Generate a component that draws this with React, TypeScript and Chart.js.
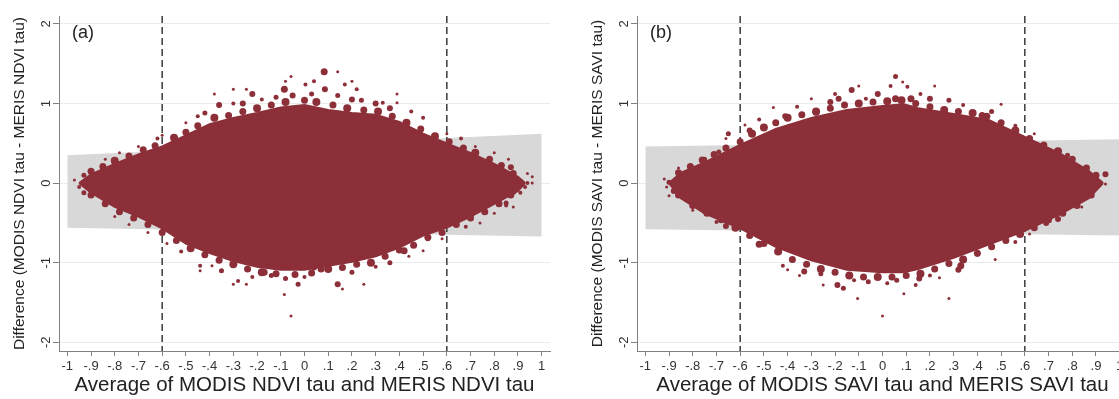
import React, { useEffect, useRef } from "react";
import { Chart, registerables } from "chart.js";

Chart.register(...registerables);

// ---------- axes ----------
const xTickValues = [-1, -0.9, -0.8, -0.7, -0.6, -0.5, -0.4, -0.3, -0.2, -0.1, 0, 0.1, 0.2, 0.3, 0.4, 0.5, 0.6, 0.7, 0.8, 0.9, 1];
const xTickLabels = ["-1", "-.9", "-.8", "-.7", "-.6", "-.5", "-.4", "-.3", "-.2", "-.1", "0", ".1", ".2", ".3", ".4", ".5", ".6", ".7", ".8", ".9", "1"];
const yTickValues = [-2, -1, 0, 1, 2];
const yTickLabels = ["-2", "-1", "0", "1", "2"];
const xMin = -1.035;
const xMax = 1.035;
const yMin = -2.11;
const yMax = 2.1;
const refLinesX = [-0.6, 0.6];
const bandX = [-1, 1];

// ---------- panel (a): NDVI ----------
const aBandUpper = [0.35, 0.62];
const aBandLower = [-0.56, -0.67];
const aCoreX = [-0.95, -0.9, -0.8, -0.7, -0.6, -0.5, -0.4, -0.3, -0.2, -0.1, 0, 0.1, 0.2, 0.3, 0.4, 0.5, 0.6, 0.7, 0.8, 0.9, 0.93];
const aCoreUpper = [0, 0.11, 0.24, 0.36, 0.46, 0.6, 0.74, 0.82, 0.88, 0.95, 0.98, 0.92, 0.88, 0.86, 0.77, 0.62, 0.5, 0.38, 0.24, 0.08, 0];
const aCoreLower = [0, -0.12, -0.3, -0.42, -0.57, -0.76, -0.88, -0.98, -1.05, -1.09, -1.09, -1.04, -0.99, -0.92, -0.81, -0.66, -0.56, -0.42, -0.26, -0.1, 0];
const aEdgeUpper: number[][] = [
  [-0.9, 0.15, 3.5], [-0.85, 0.21, 3.5], [-0.8, 0.28, 4], [-0.74, 0.34, 3.5], [-0.68, 0.42, 3.5], [-0.63, 0.47, 3.5],
  [-0.55, 0.57, 4], [-0.5, 0.64, 3.5], [-0.45, 0.72, 3.5], [-0.38, 0.82, 4], [-0.32, 0.85, 3.5], [-0.26, 0.9, 3.5],
  [-0.2, 0.94, 4], [-0.14, 0.98, 3.5], [-0.08, 1.02, 4], [0.0, 1.04, 3.5], [0.05, 1.02, 4], [0.12, 0.98, 3.5],
  [0.18, 0.94, 4], [0.25, 0.92, 3.5], [0.31, 0.9, 4], [0.37, 0.84, 3.5], [0.43, 0.76, 4], [0.49, 0.68, 3.5],
  [0.55, 0.59, 4], [0.61, 0.52, 3.5], [0.67, 0.44, 3.5], [0.72, 0.38, 4], [0.78, 0.3, 3.5], [0.83, 0.22, 3.5], [0.88, 0.12, 3.5],
];
const aEdgeLower: number[][] = [
  [-0.9, -0.15, 3.5], [-0.84, -0.26, 3.5], [-0.78, -0.36, 3.5], [-0.72, -0.44, 3.5], [-0.66, -0.52, 3.5], [-0.6, -0.62, 3.5],
  [-0.54, -0.72, 3.5], [-0.48, -0.82, 4], [-0.42, -0.9, 3.5], [-0.36, -0.97, 3.5], [-0.3, -1.02, 4], [-0.24, -1.08, 3.5],
  [-0.18, -1.12, 4], [-0.12, -1.14, 3.5], [-0.04, -1.15, 3.5], [0.03, -1.13, 3.5], [0.1, -1.08, 4], [0.16, -1.06, 3.5],
  [0.22, -1.02, 3.5], [0.28, -1.0, 4], [0.34, -0.92, 3.5], [0.4, -0.84, 3.5], [0.46, -0.78, 3.5], [0.52, -0.68, 3.5],
  [0.58, -0.62, 3.5], [0.64, -0.52, 3.5], [0.7, -0.44, 3.5], [0.76, -0.36, 3.5], [0.82, -0.26, 3.5], [0.87, -0.15, 3.5],
];
const aOutliers: number[][] = [
  [0.083, 1.4, 3.5], [0.14, 1.4, 1.5], [-0.08, 1.28, 1.5], [-0.057, 1.34, 1.5], [-0.085, 1.18, 3.5], [0.004, 1.24, 2],
  [0.04, 1.28, 2], [0.086, 1.18, 3], [0.17, 1.24, 2], [0.2, 1.28, 1.5], [0.22, 1.18, 2], [-0.22, 1.12, 3],
  [-0.3, 1.18, 1.5], [-0.245, 1.18, 1.5], [-0.38, 1.12, 1.5], [0.39, 1.12, 1.5], [0.33, 1.01, 2], [0.39, 1.01, 1.5],
  [-0.36, 0.98, 3], [-0.3, 1.0, 2], [-0.18, 1.05, 2], [-0.12, 1.08, 2.5], [0.14, 1.1, 2.5], [0.24, 1.04, 2.5],
  [0.3, 1.0, 3], [0.45, 0.9, 2], [0.5, 0.82, 2], [-0.45, 0.84, 2], [-0.5, 0.76, 1.5], [-0.6, 0.6, 1.5],
  [-0.62, 0.56, 2], [-0.7, 0.46, 1.5], [-0.78, 0.38, 1.5], [-0.84, 0.3, 1.5], [0.6, 0.62, 1.5], [0.66, 0.56, 2],
  [0.72, 0.46, 1.5], [0.8, 0.38, 1.5], [0.86, 0.3, 1.5],
  [-0.05, 1.1, 3], [0.03, 1.12, 2.5], [-0.26, 1.0, 3], [0.36, 0.94, 3], [-0.42, 0.88, 2.5], [0.2, 1.05, 3],
  [-0.97, 0.04, 1.5], [-0.95, -0.05, 2], [-0.93, 0.1, 2.5], [-0.93, -0.12, 2.5], [0.94, 0.12, 1.5], [0.96, 0.08, 1.5],
  [0.96, 0, 1.5], [0.94, 0.0, 2], [0.87, 0.2, 3], [0.89, 0, 3.5], [0.88, -0.11, 3], [0.91, -0.12, 2],
  [0.93, -0.05, 2], [0.85, -0.25, 2.5], [0.88, -0.3, 1.5],
  [-0.057, -1.67, 1.5], [-0.085, -1.4, 1.5], [-0.027, -1.27, 2.5], [0.14, -1.27, 3], [0.16, -1.33, 1.5], [0.25, -1.27, 1.5],
  [-0.3, -1.27, 1.5], [-0.28, -1.23, 2], [-0.245, -1.27, 1.5], [-0.44, -1.1, 1.5], [-0.44, -1.04, 2], [-0.39, -1.04, 1.5],
  [-0.17, -1.12, 3.5], [-0.14, -1.16, 2.5], [0.07, -1.08, 3.5], [0.04, -1.06, 3], [0.42, -0.85, 3.5], [0.5, -0.85, 1.5],
  [0.52, -0.7, 2.5], [0.68, -0.55, 2], [0.85, -0.28, 2],
  [-0.35, -1.1, 2.5], [-0.22, -1.18, 2], [-0.08, -1.2, 2.5], [0.0, -1.18, 2], [0.2, -1.12, 2.5], [0.3, -1.05, 2],
  [0.36, -1.0, 2.5], [0.44, -0.92, 1.5], [-0.52, -0.86, 2], [-0.58, -0.76, 1.5], [-0.66, -0.62, 1.5], [-0.74, -0.52, 1.5],
  [-0.8, -0.42, 1.5], [0.58, -0.7, 1.5], [0.74, -0.5, 1.5], [0.8, -0.38, 1.5],
];

// ---------- panel (b): SAVI ----------
const bBandUpper = [0.46, 0.55];
const bBandLower = [-0.58, -0.66];
const bCoreX = [-0.9, -0.85, -0.75, -0.6, -0.45, -0.3, -0.15, 0, 0.09, 0.15, 0.3, 0.45, 0.6, 0.75, 0.87, 0.93];
const bCoreUpper = [0, 0.13, 0.26, 0.48, 0.68, 0.82, 0.92, 0.97, 0.99, 0.94, 0.87, 0.79, 0.58, 0.37, 0.15, 0];
const bCoreLower = [0, -0.19, -0.38, -0.57, -0.8, -0.97, -1.09, -1.12, -1.12, -1.08, -0.94, -0.77, -0.6, -0.39, -0.19, 0];
const bEdgeUpper: number[][] = [
  [-0.86, 0.13, 3.5], [-0.81, 0.21, 3.5], [-0.76, 0.29, 3.5], [-0.71, 0.36, 3.5], [-0.66, 0.44, 3.5], [-0.6, 0.52, 3.5],
  [-0.55, 0.62, 4], [-0.5, 0.7, 4], [-0.45, 0.76, 3.5], [-0.4, 0.82, 4], [-0.34, 0.86, 3.5], [-0.28, 0.9, 4],
  [-0.22, 0.94, 3.5], [-0.16, 0.98, 3.5], [-0.1, 1.0, 4], [-0.04, 1.02, 3.5], [0.02, 1.03, 4], [0.08, 1.04, 4],
  [0.14, 1.0, 3.5], [0.2, 0.96, 3.5], [0.26, 0.92, 4], [0.32, 0.9, 3.5], [0.38, 0.88, 4], [0.44, 0.84, 3.5],
  [0.5, 0.76, 3.5], [0.56, 0.66, 4], [0.62, 0.56, 3.5], [0.68, 0.48, 3.5], [0.74, 0.4, 4], [0.8, 0.3, 3.5],
  [0.86, 0.19, 3.5], [0.9, 0.1, 3.5],
];
const bEdgeLower: number[][] = [
  [-0.86, -0.15, 3.5], [-0.8, -0.28, 3.5], [-0.74, -0.38, 3.5], [-0.68, -0.46, 3.5], [-0.62, -0.56, 4], [-0.56, -0.66, 3.5],
  [-0.5, -0.76, 3.5], [-0.44, -0.86, 4], [-0.38, -0.96, 3.5], [-0.32, -1.02, 3.5], [-0.26, -1.08, 4], [-0.2, -1.12, 3.5],
  [-0.14, -1.16, 4], [-0.08, -1.18, 3.5], [-0.02, -1.18, 4], [0.04, -1.18, 3.5], [0.1, -1.16, 3.5], [0.16, -1.14, 4],
  [0.22, -1.08, 3.5], [0.28, -1.01, 3.5], [0.34, -0.96, 4], [0.4, -0.88, 3.5], [0.46, -0.8, 3.5], [0.52, -0.72, 3.5],
  [0.58, -0.64, 4], [0.64, -0.56, 3.5], [0.7, -0.46, 3.5], [0.76, -0.38, 3.5], [0.82, -0.28, 3.5], [0.88, -0.15, 3.5],
];
const bOutliers: number[][] = [
  [0.055, 1.34, 2.5], [0.085, 1.27, 1.5], [0.034, 1.22, 2], [0.105, 1.21, 2], [0.22, 1.22, 1.5], [-0.1, 1.22, 1.5],
  [-0.13, 1.17, 3], [-0.07, 1.06, 2], [0.055, 1.06, 3.5], [0.12, 1.06, 3.5], [-0.185, 1.06, 3], [-0.3, 1.06, 1.5],
  [-0.46, 0.95, 1.5], [0.5, 0.99, 1.5], [-0.28, 0.89, 3.5], [0.42, 0.85, 3.5], [-0.41, 0.84, 3], [-0.58, 0.73, 1.5],
  [-0.66, 0.56, 1.5], [-0.65, 0.62, 2.5], [0.64, 0.62, 1.5], [0.74, 0.39, 3], [0.78, 0.35, 2.5], [0.94, 0.11, 3],
  [0.94, -0.01, 1.5], [0.89, 0.03, 3], [-0.2, 1.12, 2], [0.16, 1.12, 2], [0.28, 1.04, 2.5], [0.34, 0.98, 2],
  [-0.36, 0.96, 2], [-0.52, 0.8, 2], [0.56, 0.72, 2], [-0.75, 0.3, 2.5], [-0.69, 0.39, 2.5], [-0.86, 0.19, 1.5],
  [-0.56, 0.66, 3], [-0.02, 1.12, 3], [0.2, 1.06, 3], [-0.22, 1.02, 3], [0.46, 0.9, 2.5],
  [-0.92, 0.05, 1.5], [-0.91, -0.05, 1.5], [-0.9, -0.16, 1.5], [-0.9, 0.01, 2.5], [-0.88, -0.1, 3],
  [0.0, -1.67, 1.5], [-0.105, -1.45, 1.5], [0.28, -1.45, 1.5], [-0.165, -1.32, 2.5], [-0.19, -1.28, 3], [-0.25, -1.28, 1.5],
  [-0.35, -1.16, 1.5], [-0.33, -1.11, 3], [0.09, -1.39, 1.5], [0.14, -1.28, 2], [0.155, -1.2, 3], [0.24, -1.19, 1.5],
  [0.32, -1.09, 3], [0.33, -1.04, 3.5], [0.475, -0.96, 1.5], [0.4, -0.9, 2], [0.69, -0.5, 3], [0.74, -0.45, 3],
  [-0.4, -1.09, 1.5], [-0.42, -1.04, 2], [-0.52, -0.77, 3.5], [-0.66, -0.54, 3], [-0.7, -0.49, 2],
  [-0.06, -1.24, 2.5], [0.02, -1.26, 2], [-0.12, -1.22, 2], [0.06, -1.22, 2.5], [0.2, -1.16, 2], [-0.26, -1.14, 2.5],
  [0.56, -0.74, 2], [0.62, -0.64, 1.5], [0.84, -0.3, 1.5], [-0.8, -0.34, 1.5],
];

// ---------- text ----------
const panelA = {
  tag: "(a)",
  xTitle: "Average of MODIS NDVI tau and MERIS NDVI tau",
  yTitle: "Difference (MODIS NDVI tau - MERIS NDVI tau)",
};
const panelB = {
  tag: "(b)",
  xTitle: "Average of MODIS SAVI tau and MERIS SAVI tau",
  yTitle: "Difference (MODIS SAVI tau - MERIS SAVI tau)",
};

const RED = "#8c2f39";
const BAND = "#d8d8d8";
const FONT = "'Liberation Sans', Arial, sans-serif";
Chart.defaults.font.family = FONT;

const CANVAS_W = 560;
const CANVAS_H = 399;

function pts(xs: number[], ys: number[]) {
  return xs.map((x, i) => ({ x, y: ys[i] }));
}

function buildConfig(
  text: { tag: string; xTitle: string; yTitle: string },
  bandUpper: number[],
  bandLower: number[],
  coreX: number[],
  coreUpper: number[],
  coreLower: number[],
  dots: number[][]
): any {
  const tagPlugin = {
    id: "panelTag",
    afterDatasetsDraw(chart: any) {
      const { ctx, chartArea } = chart;
      ctx.save();
      ctx.font = `18px ${FONT}`;
      ctx.fillStyle = "#222";
      ctx.textAlign = "left";
      ctx.textBaseline = "middle";
      ctx.fillText(text.tag, chartArea.left + 13, 33);
      ctx.restore();
    },
  };
  const lineBase = { pointRadius: 0, tension: 0, showLine: true };
  return {
    type: "line",
    data: {
      datasets: [
        {
          ...lineBase,
          data: dots.map((d) => ({ x: d[0], y: d[1] })),
          showLine: false,
          pointRadius: dots.map((d) => d[2]),
          pointBackgroundColor: RED,
          pointBorderWidth: 0,
          pointBorderColor: RED,
          order: 0,
        },
        {
          ...lineBase,
          data: pts(coreX, coreUpper),
          borderColor: RED,
          backgroundColor: RED,
          borderWidth: 2,
          fill: "+1",
          order: 1,
        },
        {
          ...lineBase,
          data: pts(coreX, coreLower),
          borderColor: RED,
          borderWidth: 2,
          fill: false,
          order: 2,
        },
        ...refLinesX.map((x) => ({
          ...lineBase,
          data: [
            { x, y: yMax },
            { x, y: yMin },
          ],
          borderColor: "#3a3a3a",
          borderWidth: 1.5,
          borderDash: [7, 4],
          fill: false,
          order: 3,
        })),
        {
          ...lineBase,
          data: pts(bandX, bandUpper),
          borderColor: BAND,
          backgroundColor: BAND,
          borderWidth: 0,
          fill: "+1",
          order: 4,
        },
        {
          ...lineBase,
          data: pts(bandX, bandLower),
          borderColor: BAND,
          borderWidth: 0,
          fill: false,
          order: 5,
        },
      ],
    },
    options: {
      responsive: false,
      animation: false,
      events: [],
      layout: { padding: { left: 0, right: CANVAS_W - 550, top: 16, bottom: 0 } },
      plugins: { legend: { display: false }, tooltip: { enabled: false } },
      scales: {
        x: {
          type: "linear",
          min: xMin,
          max: xMax,
          afterBuildTicks: (s: any) => {
            s.ticks = xTickValues.map((value) => ({ value }));
          },
          afterFit: (s: any) => {
            s.height = 48;
          },
          ticks: {
            callback: (_v: any, i: number) => xTickLabels[i],
            autoSkip: false,
            maxRotation: 0,
            minRotation: 0,
            padding: 3,
            color: "#333",
            font: { size: 13, family: FONT },
          },
          grid: {
            display: true,
            drawOnChartArea: false,
            drawTicks: true,
            tickLength: 5,
            tickColor: "#808080",
          },
          border: { display: true, color: "#808080", width: 1 },
          title: {
            display: true,
            text: text.xTitle,
            color: "#222",
            font: { size: 20.5, family: FONT },
            padding: { top: 0, bottom: 1 },
          },
        },
        y: {
          type: "linear",
          min: yMin,
          max: yMax,
          afterBuildTicks: (s: any) => {
            s.ticks = yTickValues.map((value) => ({ value }));
          },
          afterFit: (s: any) => {
            s.width = 59;
          },
          ticks: {
            callback: (_v: any, i: number) => yTickLabels[i],
            autoSkip: false,
            minRotation: 90,
            maxRotation: 90,
            crossAlign: "center",
            padding: 1,
            color: "#333",
            font: { size: 13, family: FONT },
          },
          grid: {
            display: true,
            drawOnChartArea: true,
            color: "#ebebeb",
            lineWidth: 1,
            drawTicks: true,
            tickLength: 6,
            tickColor: "#808080",
          },
          border: { display: true, color: "#808080", width: 1 },
          title: {
            display: true,
            text: text.yTitle,
            color: "#222",
            font: { size: 15.5, family: FONT },
            padding: { top: 10, bottom: 0 },
          },
        },
      },
    },
    plugins: [tagPlugin],
  };
}

function Panel(props: { left: number; config: any }) {
  const ref = useRef<HTMLCanvasElement | null>(null);
  useEffect(() => {
    if (!ref.current) return;
    const chart = new Chart(ref.current, props.config);
    return () => chart.destroy();
  }, []);
  return (
    <canvas
      ref={ref}
      width={CANVAS_W}
      height={CANVAS_H}
      style={{ position: "absolute", left: props.left, top: 0, width: CANVAS_W, height: CANVAS_H }}
    />
  );
}

export default function App() {
  const cfgA = buildConfig(panelA, aBandUpper, aBandLower, aCoreX, aCoreUpper, aCoreLower, [
    ...aEdgeUpper,
    ...aEdgeLower,
    ...aOutliers,
  ]);
  const cfgB = buildConfig(panelB, bBandUpper, bBandLower, bCoreX, bCoreUpper, bCoreLower, [
    ...bEdgeUpper,
    ...bEdgeLower,
    ...bOutliers,
  ]);
  return (
    <div
      style={{
        position: "fixed",
        left: 0,
        top: 0,
        width: 1119,
        height: 399,
        overflow: "hidden",
        background: "#fff",
      }}
    >
      <Panel left={0} config={cfgA} />
      <Panel left={578} config={cfgB} />
    </div>
  );
}
